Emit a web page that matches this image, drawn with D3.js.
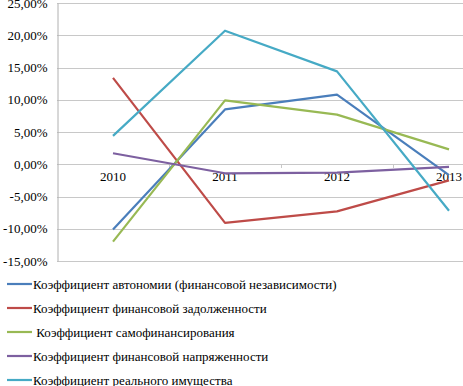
<!DOCTYPE html>
<html><head><meta charset="utf-8">
<script src="https://cdn.jsdelivr.net/npm/d3@7"></script>
<style>body{margin:0;background:#fff;}svg{display:block;} svg text{font-family:"Liberation Serif","Times New Roman",serif !important;}</style>
</head><body>
<svg id="c" width="463" height="386"></svg>
<script>
const years = ["2010","2011","2012","2013"];
const seriesNames = [
  "Коэффициент автономии (финансовой независимости)",
  "Коэффициент финансовой задолженности",
  " Коэффициент самофинансирования",
  "Коэффициент финансовой напряженности",
  "Коэффициент реального имущества"
];
const autonomy = [-10.1, 8.5, 10.8, -1.7];
const debt = [13.4, -9.1, -7.3, -2.5];
const selfFin = [-12.0, 9.9, 7.7, 2.3];
const tension = [1.7, -1.4, -1.3, -0.4];
const realProp = [4.4, 20.7, 14.4, -7.2];
const yTicks = [25, 20, 15, 10, 5, 0, -5, -10, -15];
const colors = ["#4A7EBB", "#BE4B48", "#98B954", "#7D60A0", "#46AAC5"];

(function () {
const data = [autonomy, debt, selfFin, tension, realProp];
const svg = d3.select("#c");
const pLeft = 57, pRight = 505, pTop = 3, pBottom = 261;
const x = d3.scaleBand().domain(years).range([pLeft, pRight]);
const y = d3.scaleLinear().domain([-15, 25]).range([pBottom, pTop]);
const fmt = v => v.toFixed(2).replace(".", ",") + "%";

svg.append("g").selectAll("line").data(yTicks).join("line")
  .attr("x1", pLeft).attr("x2", 463)
  .attr("y1", d => Math.round(y(d)) + 0.5).attr("y2", d => Math.round(y(d)) + 0.5)
  .attr("stroke", "#c8c8c8").attr("stroke-width", 1);

const yAxis = d3.axisLeft(y).tickValues(yTicks).tickFormat(fmt).tickSize(0).tickPadding(10);
const ya = svg.append("g").attr("transform", `translate(${pLeft + 0.5},0)`).call(yAxis);
ya.select(".domain").attr("stroke", "#b0b0b0");
ya.selectAll("text").attr("font-size", 13).attr("fill", "#000");

const xAxis = d3.axisBottom(x).tickSize(0).tickPadding(7);
const xa = svg.append("g").attr("transform", `translate(0,${Math.round(y(0)) + 0.5})`).call(xAxis);
xa.select(".domain").remove();
xa.selectAll("text").attr("font-size", 13).attr("fill", "#000");
svg.append("g").selectAll("line").data(years.slice(1)).join("line")
  .attr("x1", d => Math.round(x(d)) + 0.5).attr("x2", d => Math.round(x(d)) + 0.5)
  .attr("y1", Math.round(y(0))).attr("y2", Math.round(y(0)) + 4)
  .attr("stroke", "#c8c8c8");

const line = d3.line().x((d, i) => x(years[i]) + x.bandwidth() / 2).y(d => y(d));
svg.append("g").selectAll("path").data(data).join("path")
  .attr("d", d => line(d)).attr("fill", "none")
  .attr("stroke", (d, i) => colors[i]).attr("stroke-width", 2.2)
  .attr("stroke-linejoin", "round");

const lg = svg.append("g").selectAll("g").data(seriesNames).join("g")
  .attr("transform", (d, i) => `translate(7,${284 + i * 24})`);
lg.append("line").attr("x1", 0).attr("x2", 25).attr("y1", 0).attr("y2", 0)
  .attr("stroke", (d, i) => colors[i]).attr("stroke-width", 2.2);
lg.append("text").attr("x", 26).attr("y", 4.5).text(d => d)
  .attr("font-size", 13).attr("fill", "#000")
  .style("white-space", "pre");
})();
</script>
</body></html>
